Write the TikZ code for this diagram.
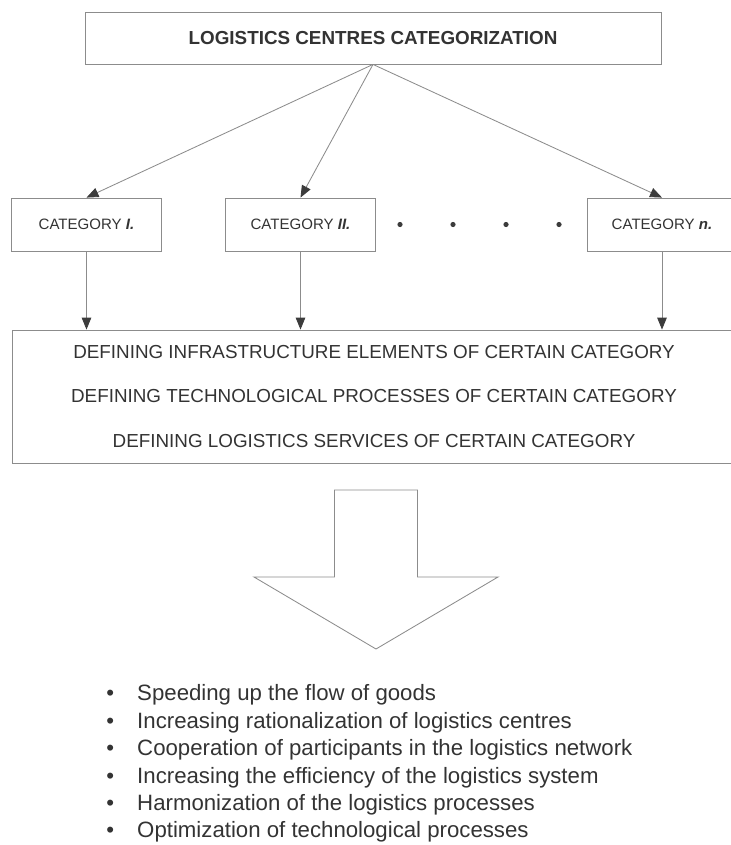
\documentclass[tikz,border=0pt]{standalone}
\usepackage{fontspec}
\setmainfont{Liberation Sans}
\usetikzlibrary{arrows.meta}
\definecolor{LcLine}{HTML}{8C8C8C}
\definecolor{LcText}{HTML}{333333}
\definecolor{LcTip}{HTML}{3C3C3C}

\begin{document}
\begin{tikzpicture}[
  box/.style={draw=LcLine,line width=0.6pt,fill=white,inner sep=0pt,text=LcText},
  catbox/.style={box,minimum width=3.75cm,minimum height=1.325cm,font=\fontsize{10.7}{13}\selectfont},
  link/.style={draw=LcLine,line width=0.6pt,-{Triangle[length=3mm,width=2.4mm,color=LcTip]}},
  blockarrow/.style={draw=LcLine,line width=0.6pt,fill=white}
]
\useasboundingbox (0,0) rectangle (18.275,-21.125);
\node[box,minimum width=14.4cm,minimum height=1.3cm,font=\fontsize{13.4}{16}\selectfont\bfseries] (head) at (9.325,-0.95) {LOGISTICS CENTRES CATEGORIZATION};
\node[catbox] (catI) at (2.1625,-5.6125) {CATEGORY \textbf{\textit{I.}}};
\node[catbox] (catII) at (7.5125,-5.6125) {CATEGORY \textbf{\textit{II.}}};
\node[catbox] (catN) at (16.55,-5.6125) {CATEGORY \textbf{\textit{n.}}};
% dots between the categories
\fill[LcTip] (10.0,-5.6125) circle (0.065);
\fill[LcTip] (11.325,-5.6125) circle (0.065);
\fill[LcTip] (12.65,-5.6125) circle (0.065);
\fill[LcTip] (13.975,-5.6125) circle (0.065);
\node[box,minimum width=18.1cm,minimum height=3.325cm,align=center,font=\fontsize{13.4}{32}\selectfont] (defs) at (9.35,-9.9125) {
  DEFINING INFRASTRUCTURE ELEMENTS OF CERTAIN CATEGORY\\
  DEFINING TECHNOLOGICAL PROCESSES OF CERTAIN CATEGORY\\
  DEFINING LOGISTICS SERVICES OF CERTAIN CATEGORY};
\draw[link] (head.south) -- (catI.north);
\draw[link] (head.south) -- (catII.north);
\draw[link] (head.south) -- (catN.north);
\draw[link] (catI.south) -- (catI.south |- defs.north);
\draw[link] (catII.south) -- (catII.south |- defs.north);
\draw[link] (catN.south) -- (catN.south |- defs.north);
% big arrow down to the results
\draw[blockarrow] (8.3625,-12.25) -- (8.3625,-14.425) -- (6.35,-14.425) -- (9.4,-16.225)
  -- (12.45,-14.425) -- (10.4375,-14.425) -- (10.4375,-12.25) -- cycle;
\node[anchor=base west,inner sep=0pt,text=LcText,font=\fontsize{15.8}{19.5}\selectfont] (gains) at (2.65,-17.52) {%
  \begin{tabular}[t]{@{}l@{\hspace{16.5pt}}l@{}}
  \textbullet & Speeding up the flow of goods\\
  \textbullet & Increasing rationalization of logistics centres\\
  \textbullet & Cooperation of participants in the logistics network\\
  \textbullet & Increasing the efficiency of the logistics system\\
  \textbullet & Harmonization of the logistics processes\\
  \textbullet & Optimization of technological processes
  \end{tabular}};
\end{tikzpicture}
\end{document}
